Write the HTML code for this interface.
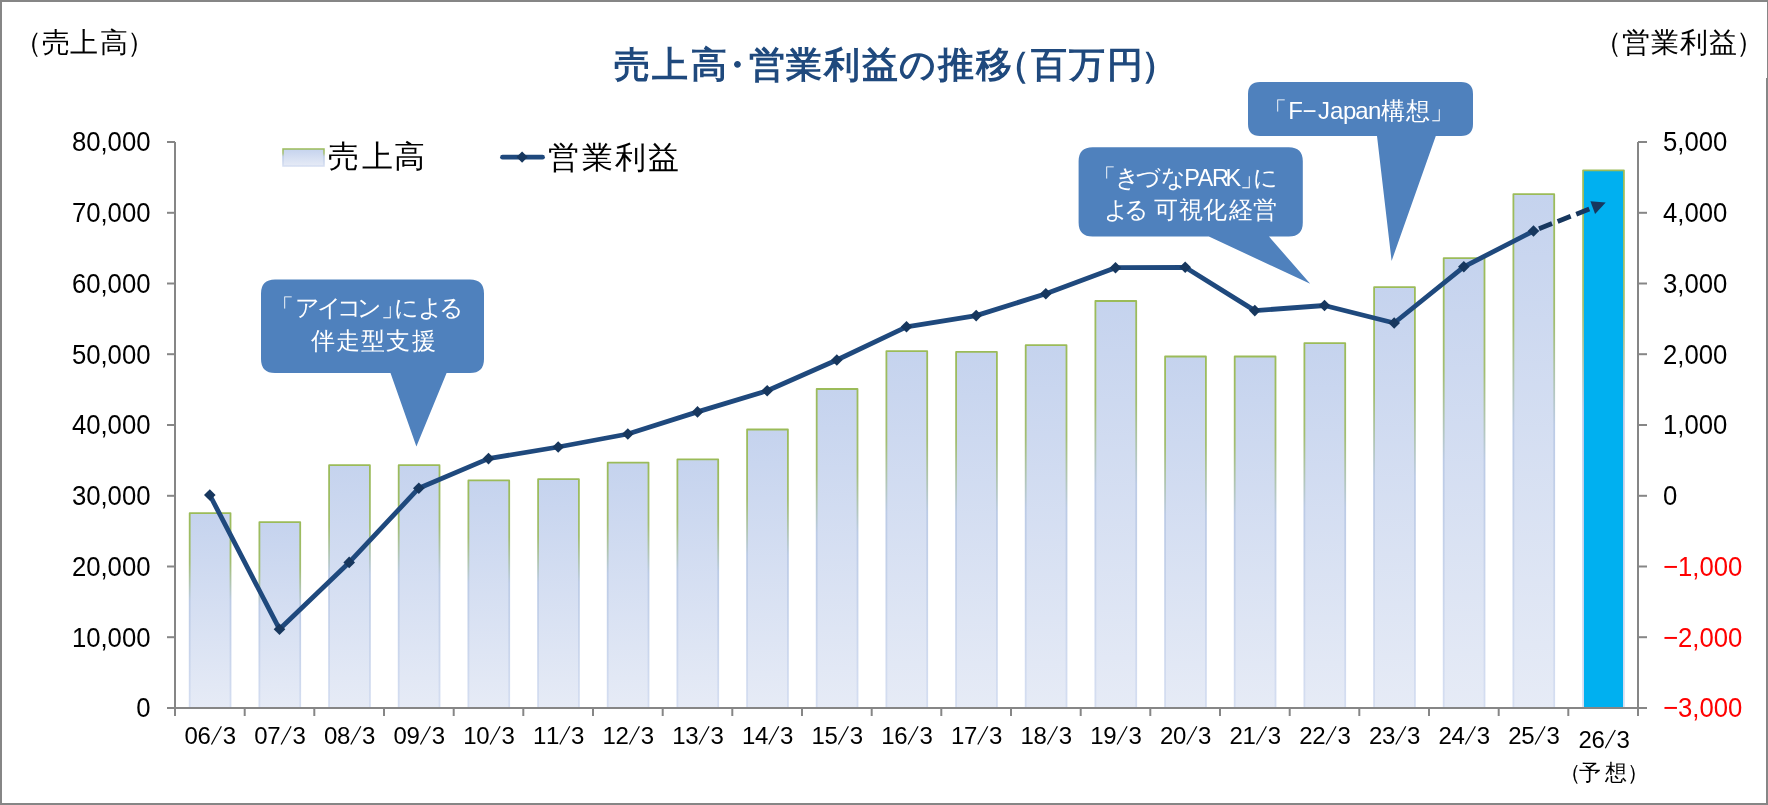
<!DOCTYPE html>
<html><head><meta charset="utf-8"><style>
html,body{margin:0;padding:0;background:#fff;}
body{width:1768px;height:805px;overflow:hidden;position:relative;font-family:"Liberation Sans",sans-serif;}
svg{position:absolute;left:0;top:0;will-change:transform;}
.ax line{stroke:#868686;stroke-width:2;}
</style></head><body>
<svg width="1768" height="805" viewBox="0 0 1768 805" font-family="Liberation Sans, sans-serif">
<defs>
<linearGradient id="gf" x1="0" y1="0" x2="0" y2="1"><stop offset="0" stop-color="#C5D3EE"/><stop offset="1" stop-color="#E6EBF6"/></linearGradient>
<linearGradient id="gs" x1="0" y1="0" x2="0" y2="1"><stop offset="0" stop-color="#9BBB59"/><stop offset="0.25" stop-color="#A2BE70"/><stop offset="0.45" stop-color="#BCCBE6"/><stop offset="1" stop-color="#D5DEF1"/></linearGradient>
</defs>
<rect x="0" y="0" width="1768" height="805" fill="#fff"/>
<rect x="189.7" y="513.1" width="40.8" height="194.9" fill="url(#gf)" stroke="url(#gs)" stroke-width="1.8" stroke-linejoin="round"/>
<rect x="259.4" y="522.1" width="40.8" height="185.9" fill="url(#gf)" stroke="url(#gs)" stroke-width="1.8" stroke-linejoin="round"/>
<rect x="329.1" y="465.2" width="40.8" height="242.8" fill="url(#gf)" stroke="url(#gs)" stroke-width="1.8" stroke-linejoin="round"/>
<rect x="398.7" y="465.2" width="40.8" height="242.8" fill="url(#gf)" stroke="url(#gs)" stroke-width="1.8" stroke-linejoin="round"/>
<rect x="468.4" y="480.4" width="40.8" height="227.6" fill="url(#gf)" stroke="url(#gs)" stroke-width="1.8" stroke-linejoin="round"/>
<rect x="538.1" y="479.2" width="40.8" height="228.8" fill="url(#gf)" stroke="url(#gs)" stroke-width="1.8" stroke-linejoin="round"/>
<rect x="607.7" y="462.6" width="40.8" height="245.4" fill="url(#gf)" stroke="url(#gs)" stroke-width="1.8" stroke-linejoin="round"/>
<rect x="677.4" y="459.4" width="40.8" height="248.6" fill="url(#gf)" stroke="url(#gs)" stroke-width="1.8" stroke-linejoin="round"/>
<rect x="747.1" y="429.5" width="40.8" height="278.5" fill="url(#gf)" stroke="url(#gs)" stroke-width="1.8" stroke-linejoin="round"/>
<rect x="816.7" y="389.0" width="40.8" height="319.0" fill="url(#gf)" stroke="url(#gs)" stroke-width="1.8" stroke-linejoin="round"/>
<rect x="886.4" y="351.2" width="40.8" height="356.8" fill="url(#gf)" stroke="url(#gs)" stroke-width="1.8" stroke-linejoin="round"/>
<rect x="956.1" y="351.9" width="40.8" height="356.1" fill="url(#gf)" stroke="url(#gs)" stroke-width="1.8" stroke-linejoin="round"/>
<rect x="1025.7" y="345.2" width="40.8" height="362.8" fill="url(#gf)" stroke="url(#gs)" stroke-width="1.8" stroke-linejoin="round"/>
<rect x="1095.4" y="301.0" width="40.8" height="407.0" fill="url(#gf)" stroke="url(#gs)" stroke-width="1.8" stroke-linejoin="round"/>
<rect x="1165.1" y="356.5" width="40.8" height="351.5" fill="url(#gf)" stroke="url(#gs)" stroke-width="1.8" stroke-linejoin="round"/>
<rect x="1234.7" y="356.5" width="40.8" height="351.5" fill="url(#gf)" stroke="url(#gs)" stroke-width="1.8" stroke-linejoin="round"/>
<rect x="1304.4" y="343.1" width="40.8" height="364.9" fill="url(#gf)" stroke="url(#gs)" stroke-width="1.8" stroke-linejoin="round"/>
<rect x="1374.1" y="287.2" width="40.8" height="420.8" fill="url(#gf)" stroke="url(#gs)" stroke-width="1.8" stroke-linejoin="round"/>
<rect x="1443.7" y="258.1" width="40.8" height="449.9" fill="url(#gf)" stroke="url(#gs)" stroke-width="1.8" stroke-linejoin="round"/>
<rect x="1513.4" y="194.2" width="40.8" height="513.8" fill="url(#gf)" stroke="url(#gs)" stroke-width="1.8" stroke-linejoin="round"/>
<rect x="1583.1" y="170.3" width="40.8" height="537.7" fill="#00B0F0" stroke="url(#gs)" stroke-width="1.8" stroke-linejoin="round"/>
<g class="ax">
<line x1="175" y1="142" x2="175" y2="708" />
<line x1="1638" y1="142" x2="1638" y2="716" />
<line x1="167" y1="708" x2="1647" y2="708" />
<line x1="167" y1="708.0" x2="175" y2="708.0" />
<line x1="1638" y1="708.0" x2="1647" y2="708.0" />
<line x1="167" y1="637.2" x2="175" y2="637.2" />
<line x1="1638" y1="637.2" x2="1647" y2="637.2" />
<line x1="167" y1="566.5" x2="175" y2="566.5" />
<line x1="1638" y1="566.5" x2="1647" y2="566.5" />
<line x1="167" y1="495.8" x2="175" y2="495.8" />
<line x1="1638" y1="495.8" x2="1647" y2="495.8" />
<line x1="167" y1="425.0" x2="175" y2="425.0" />
<line x1="1638" y1="425.0" x2="1647" y2="425.0" />
<line x1="167" y1="354.2" x2="175" y2="354.2" />
<line x1="1638" y1="354.2" x2="1647" y2="354.2" />
<line x1="167" y1="283.5" x2="175" y2="283.5" />
<line x1="1638" y1="283.5" x2="1647" y2="283.5" />
<line x1="167" y1="212.8" x2="175" y2="212.8" />
<line x1="1638" y1="212.8" x2="1647" y2="212.8" />
<line x1="167" y1="142.0" x2="175" y2="142.0" />
<line x1="1638" y1="142.0" x2="1647" y2="142.0" />
<line x1="175.0" y1="708" x2="175.0" y2="716" />
<line x1="244.7" y1="708" x2="244.7" y2="716" />
<line x1="314.3" y1="708" x2="314.3" y2="716" />
<line x1="384.0" y1="708" x2="384.0" y2="716" />
<line x1="453.7" y1="708" x2="453.7" y2="716" />
<line x1="523.3" y1="708" x2="523.3" y2="716" />
<line x1="593.0" y1="708" x2="593.0" y2="716" />
<line x1="662.7" y1="708" x2="662.7" y2="716" />
<line x1="732.3" y1="708" x2="732.3" y2="716" />
<line x1="802.0" y1="708" x2="802.0" y2="716" />
<line x1="871.7" y1="708" x2="871.7" y2="716" />
<line x1="941.3" y1="708" x2="941.3" y2="716" />
<line x1="1011.0" y1="708" x2="1011.0" y2="716" />
<line x1="1080.7" y1="708" x2="1080.7" y2="716" />
<line x1="1150.3" y1="708" x2="1150.3" y2="716" />
<line x1="1220.0" y1="708" x2="1220.0" y2="716" />
<line x1="1289.7" y1="708" x2="1289.7" y2="716" />
<line x1="1359.3" y1="708" x2="1359.3" y2="716" />
<line x1="1429.0" y1="708" x2="1429.0" y2="716" />
<line x1="1498.7" y1="708" x2="1498.7" y2="716" />
<line x1="1568.3" y1="708" x2="1568.3" y2="716" />
<line x1="1638.0" y1="708" x2="1638.0" y2="716" />
</g>
<polyline points="209.8,495 279.5,629.2 349.2,562.4 418.8,488.2 488.5,458.6 558.2,447 627.8,434 697.5,411.9 767.2,390.7 836.8,360 906.5,326.8 976.2,315.6 1045.8,293.8 1115.5,267.7 1185.2,267.3 1254.8,310.6 1324.5,305.5 1394.2,323 1463.8,266.8 1533.5,231" fill="none" stroke="#1F497D" stroke-width="4.8" stroke-linejoin="round"/>
<line x1="1539" y1="228.7" x2="1592" y2="208" stroke="#17375E" stroke-width="4.8" stroke-dasharray="14 6"/>
<polygon points="1605.7,202.6 1590.4,201.3 1595.1,214" fill="#17375E"/>
<path d="M209.8,489.2 L215.6,495.0 L209.8,500.8 L204.0,495.0 Z" fill="#17375E"/>
<path d="M279.5,623.4 L285.3,629.2 L279.5,635.0 L273.7,629.2 Z" fill="#17375E"/>
<path d="M349.2,556.6 L355.0,562.4 L349.2,568.2 L343.4,562.4 Z" fill="#17375E"/>
<path d="M418.8,482.4 L424.6,488.2 L418.8,494.0 L413.0,488.2 Z" fill="#17375E"/>
<path d="M488.5,452.8 L494.3,458.6 L488.5,464.4 L482.7,458.6 Z" fill="#17375E"/>
<path d="M558.2,441.2 L564.0,447.0 L558.2,452.8 L552.4,447.0 Z" fill="#17375E"/>
<path d="M627.8,428.2 L633.6,434.0 L627.8,439.8 L622.0,434.0 Z" fill="#17375E"/>
<path d="M697.5,406.1 L703.3,411.9 L697.5,417.7 L691.7,411.9 Z" fill="#17375E"/>
<path d="M767.2,384.9 L773.0,390.7 L767.2,396.5 L761.4,390.7 Z" fill="#17375E"/>
<path d="M836.8,354.2 L842.6,360.0 L836.8,365.8 L831.0,360.0 Z" fill="#17375E"/>
<path d="M906.5,321.0 L912.3,326.8 L906.5,332.6 L900.7,326.8 Z" fill="#17375E"/>
<path d="M976.2,309.8 L982.0,315.6 L976.2,321.4 L970.4,315.6 Z" fill="#17375E"/>
<path d="M1045.8,288.0 L1051.6,293.8 L1045.8,299.6 L1040.0,293.8 Z" fill="#17375E"/>
<path d="M1115.5,261.9 L1121.3,267.7 L1115.5,273.5 L1109.7,267.7 Z" fill="#17375E"/>
<path d="M1185.2,261.5 L1191.0,267.3 L1185.2,273.1 L1179.4,267.3 Z" fill="#17375E"/>
<path d="M1254.8,304.8 L1260.6,310.6 L1254.8,316.4 L1249.0,310.6 Z" fill="#17375E"/>
<path d="M1324.5,299.7 L1330.3,305.5 L1324.5,311.3 L1318.7,305.5 Z" fill="#17375E"/>
<path d="M1394.2,317.2 L1400.0,323.0 L1394.2,328.8 L1388.4,323.0 Z" fill="#17375E"/>
<path d="M1463.8,261.0 L1469.6,266.8 L1463.8,272.6 L1458.0,266.8 Z" fill="#17375E"/>
<path d="M1533.5,225.2 L1539.3,231.0 L1533.5,236.8 L1527.7,231.0 Z" fill="#17375E"/>
<text x="150.5" y="717.3" font-size="27.5" text-anchor="end" fill="#000" textLength="14.3" lengthAdjust="spacingAndGlyphs">0</text>
<text x="1663" y="717.3" font-size="27.5" text-anchor="start" fill="#FF0000" textLength="79.3" lengthAdjust="spacingAndGlyphs">−3,000</text>
<text x="150.5" y="646.5" font-size="27.5" text-anchor="end" fill="#000" textLength="78.6" lengthAdjust="spacingAndGlyphs">10,000</text>
<text x="1663" y="646.5" font-size="27.5" text-anchor="start" fill="#FF0000" textLength="79.3" lengthAdjust="spacingAndGlyphs">−2,000</text>
<text x="150.5" y="575.8" font-size="27.5" text-anchor="end" fill="#000" textLength="78.6" lengthAdjust="spacingAndGlyphs">20,000</text>
<text x="1663" y="575.8" font-size="27.5" text-anchor="start" fill="#FF0000" textLength="79.3" lengthAdjust="spacingAndGlyphs">−1,000</text>
<text x="150.5" y="505.1" font-size="27.5" text-anchor="end" fill="#000" textLength="78.6" lengthAdjust="spacingAndGlyphs">30,000</text>
<text x="1663" y="505.1" font-size="27.5" text-anchor="start" fill="#000" textLength="14.3" lengthAdjust="spacingAndGlyphs">0</text>
<text x="150.5" y="434.3" font-size="27.5" text-anchor="end" fill="#000" textLength="78.6" lengthAdjust="spacingAndGlyphs">40,000</text>
<text x="1663" y="434.3" font-size="27.5" text-anchor="start" fill="#000" textLength="64.3" lengthAdjust="spacingAndGlyphs">1,000</text>
<text x="150.5" y="363.6" font-size="27.5" text-anchor="end" fill="#000" textLength="78.6" lengthAdjust="spacingAndGlyphs">50,000</text>
<text x="1663" y="363.6" font-size="27.5" text-anchor="start" fill="#000" textLength="64.3" lengthAdjust="spacingAndGlyphs">2,000</text>
<text x="150.5" y="292.8" font-size="27.5" text-anchor="end" fill="#000" textLength="78.6" lengthAdjust="spacingAndGlyphs">60,000</text>
<text x="1663" y="292.8" font-size="27.5" text-anchor="start" fill="#000" textLength="64.3" lengthAdjust="spacingAndGlyphs">3,000</text>
<text x="150.5" y="222.1" font-size="27.5" text-anchor="end" fill="#000" textLength="78.6" lengthAdjust="spacingAndGlyphs">70,000</text>
<text x="1663" y="222.1" font-size="27.5" text-anchor="start" fill="#000" textLength="64.3" lengthAdjust="spacingAndGlyphs">4,000</text>
<text x="150.5" y="151.3" font-size="27.5" text-anchor="end" fill="#000" textLength="78.6" lengthAdjust="spacingAndGlyphs">80,000</text>
<text x="1663" y="151.3" font-size="27.5" text-anchor="start" fill="#000" textLength="64.3" lengthAdjust="spacingAndGlyphs">5,000</text>
<text x="191.3 204.3 229.4" y="744.1" font-size="24" text-anchor="middle">063</text>
<line x1="211.4" y1="744.5" x2="221.4" y2="726.3" stroke="#000" stroke-width="1.25"/>
<text x="261.0 273.9 299.1" y="744.1" font-size="24" text-anchor="middle">073</text>
<line x1="281.1" y1="744.5" x2="291.1" y2="726.3" stroke="#000" stroke-width="1.25"/>
<text x="330.7 343.6 368.8" y="744.1" font-size="24" text-anchor="middle">083</text>
<line x1="350.8" y1="744.5" x2="360.8" y2="726.3" stroke="#000" stroke-width="1.25"/>
<text x="400.3 413.3 438.4" y="744.1" font-size="24" text-anchor="middle">093</text>
<line x1="420.4" y1="744.5" x2="430.4" y2="726.3" stroke="#000" stroke-width="1.25"/>
<text x="470.0 482.9 508.1" y="744.1" font-size="24" text-anchor="middle">103</text>
<line x1="490.1" y1="744.5" x2="500.1" y2="726.3" stroke="#000" stroke-width="1.25"/>
<text x="539.7 552.6 577.8" y="744.1" font-size="24" text-anchor="middle">113</text>
<line x1="559.8" y1="744.5" x2="569.8" y2="726.3" stroke="#000" stroke-width="1.25"/>
<text x="609.3 622.3 647.4" y="744.1" font-size="24" text-anchor="middle">123</text>
<line x1="629.4" y1="744.5" x2="639.4" y2="726.3" stroke="#000" stroke-width="1.25"/>
<text x="679.0 692.0 717.1" y="744.1" font-size="24" text-anchor="middle">133</text>
<line x1="699.1" y1="744.5" x2="709.1" y2="726.3" stroke="#000" stroke-width="1.25"/>
<text x="748.7 761.6 786.8" y="744.1" font-size="24" text-anchor="middle">143</text>
<line x1="768.8" y1="744.5" x2="778.8" y2="726.3" stroke="#000" stroke-width="1.25"/>
<text x="818.3 831.3 856.4" y="744.1" font-size="24" text-anchor="middle">153</text>
<line x1="838.4" y1="744.5" x2="848.4" y2="726.3" stroke="#000" stroke-width="1.25"/>
<text x="888.0 901.0 926.1" y="744.1" font-size="24" text-anchor="middle">163</text>
<line x1="908.1" y1="744.5" x2="918.1" y2="726.3" stroke="#000" stroke-width="1.25"/>
<text x="957.7 970.6 995.8" y="744.1" font-size="24" text-anchor="middle">173</text>
<line x1="977.8" y1="744.5" x2="987.8" y2="726.3" stroke="#000" stroke-width="1.25"/>
<text x="1027.3 1040.3 1065.4" y="744.1" font-size="24" text-anchor="middle">183</text>
<line x1="1047.4" y1="744.5" x2="1057.4" y2="726.3" stroke="#000" stroke-width="1.25"/>
<text x="1097.0 1110.0 1135.1" y="744.1" font-size="24" text-anchor="middle">193</text>
<line x1="1117.1" y1="744.5" x2="1127.1" y2="726.3" stroke="#000" stroke-width="1.25"/>
<text x="1166.7 1179.6 1204.8" y="744.1" font-size="24" text-anchor="middle">203</text>
<line x1="1186.8" y1="744.5" x2="1196.8" y2="726.3" stroke="#000" stroke-width="1.25"/>
<text x="1236.3 1249.3 1274.4" y="744.1" font-size="24" text-anchor="middle">213</text>
<line x1="1256.4" y1="744.5" x2="1266.4" y2="726.3" stroke="#000" stroke-width="1.25"/>
<text x="1306.0 1319.0 1344.1" y="744.1" font-size="24" text-anchor="middle">223</text>
<line x1="1326.1" y1="744.5" x2="1336.1" y2="726.3" stroke="#000" stroke-width="1.25"/>
<text x="1375.7 1388.6 1413.8" y="744.1" font-size="24" text-anchor="middle">233</text>
<line x1="1395.8" y1="744.5" x2="1405.8" y2="726.3" stroke="#000" stroke-width="1.25"/>
<text x="1445.3 1458.3 1483.4" y="744.1" font-size="24" text-anchor="middle">243</text>
<line x1="1465.4" y1="744.5" x2="1475.4" y2="726.3" stroke="#000" stroke-width="1.25"/>
<text x="1515.0 1528.0 1553.1" y="744.1" font-size="24" text-anchor="middle">253</text>
<line x1="1535.1" y1="744.5" x2="1545.1" y2="726.3" stroke="#000" stroke-width="1.25"/>
<text x="1585.2 1598.1 1623.3" y="747.8" font-size="24" text-anchor="middle">263</text>
<line x1="1605.3" y1="748.2" x2="1615.3" y2="730.0" stroke="#000" stroke-width="1.25"/>
<text x="1569.7 1590.3 1615.5 1637.5" y="779.7" font-size="22" fill="#000" text-anchor="middle">（予想）</text>
<path d="M275,279.5 H470 Q484,279.5 484,293.5 V359 Q484,373 470,373 H446.6 L416.4,446.6 L390.5,373 H275 Q261,373 261,359 V293.5 Q261,279.5 275,279.5 Z" fill="#4F81BD"/>
<path d="M1092.6,147.3 H1288.8 Q1302.8,147.3 1302.8,161.3 V222.6 Q1302.8,236.6 1288.8,236.6 H1269 L1310.2,283.7 L1208.9,236.6 H1092.6 Q1078.6,236.6 1078.6,222.6 V161.3 Q1078.6,147.3 1092.6,147.3 Z" fill="#4F81BD"/>
<path d="M1260,82 H1461 Q1473,82 1473,94 V124 Q1473,136 1461,136 H1435.8 L1391.6,261 L1377,136 H1260 Q1248,136 1248,124 V94 Q1248,82 1260,82 Z" fill="#4F81BD"/>
<rect x="283" y="149" width="41" height="17" fill="url(#gf)" stroke="url(#gs)" stroke-width="1.5"/>
<line x1="502.5" y1="157.2" x2="542.5" y2="157.2" stroke="#1F497D" stroke-width="4.8" stroke-linecap="round"/>
<path d="M522.1,151.5 L527.7,157.1 L522.1,162.7 L516.5,157.1 Z" fill="#17375E"/>
<text x="632.0 670.4 709.4 737.3 766.6 804.2 842.4 879.8 917.4 955.7 993.6 1011.8 1049.2 1087.3 1124.6 1158.5" y="76.5" font-size="35.5" font-weight="bold" fill="#1F497D" text-anchor="middle">売上高・営業利益の推移（百万円）</text>
<text x="27.6 55.8 84.4 113.5 141.0" y="51.8" font-size="27.5" fill="#000" text-anchor="middle">（売上高）</text>
<text x="1607.8 1635.6 1665.1 1694.4 1722.8 1749.7" y="52.4" font-size="27.5" fill="#000" text-anchor="middle">（営業利益）</text>
<text x="343.8 377.0 409.9" y="167.4" font-size="31" fill="#000" text-anchor="middle">売上高</text>
<text x="563.8 597.4 630.8 663.0" y="167.5" font-size="31" fill="#000" text-anchor="middle">営業利益</text>
<text x="281.7 307.2 329.1 349.5 369.6 392.7 406.2 430.1 451.1" y="316.4" font-size="24" fill="#FFFFFF" text-anchor="middle">「アイコン」による</text>
<text x="322.9 348.1 373.1 397.7 423.7" y="349" font-size="24" fill="#FFFFFF" text-anchor="middle">伴走型支援</text>
<text x="1103.7 1127.9 1148.1 1173.5 1192.2 1205.3 1220.4 1233.4 1251.5 1265.1" y="185.6" font-size="23.5" fill="#FFFFFF" text-anchor="middle">「きづなPARK」に</text>
<text x="1116.2 1136.1 1165.9 1190.5 1215.0 1241.2 1265.1" y="217.8" font-size="23.5" fill="#FFFFFF" text-anchor="middle">よる可視化経営</text>
<text x="1275.2 1295.5 1309.6 1324.1 1336.7 1349.6 1361.9 1374.6 1392.9 1417.8 1442.0" y="119" font-size="24" fill="#FFFFFF" text-anchor="middle">「F−Japan構想」</text>
<g fill="#868686"><rect x="0" y="0" width="1768" height="2"/><rect x="0" y="0" width="2" height="805"/><rect x="0" y="803" width="1768" height="2"/><rect x="1767" y="0" width="1" height="78"/><rect x="1766" y="78" width="2" height="727"/></g>
</svg>
</body></html>
